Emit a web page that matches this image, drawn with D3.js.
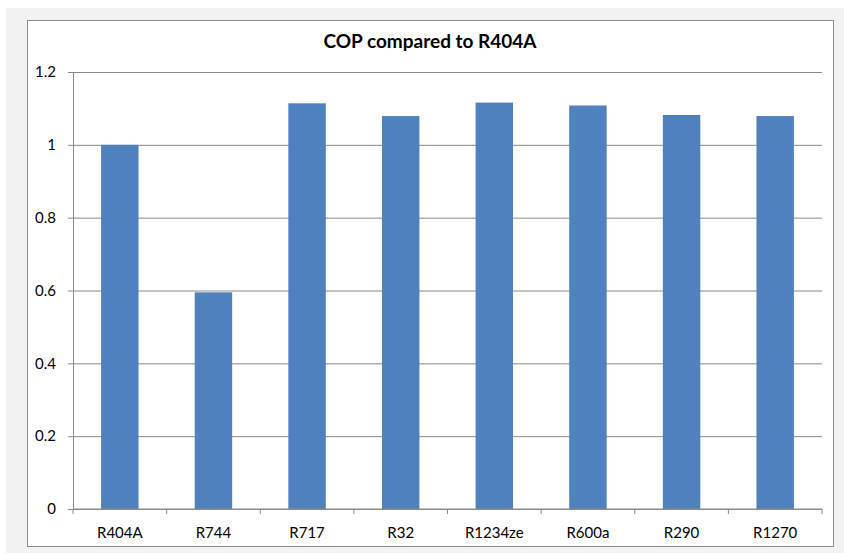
<!DOCTYPE html>
<html>
<head>
<meta charset="utf-8">
<script src="https://cdn.jsdelivr.net/npm/d3@7"></script>
<style>
  html, body { margin: 0; padding: 0; background: #fff; }
  svg { display: block; }
</style>
</head>
<body>
<div id="chart"></div>
<script>
// COP relative to R404A
const REFRIGERANTS = ['R404A', 'R744', 'R717', 'R32', 'R1234ze', 'R600a', 'R290', 'R1270']
const COP_RATIO = [1.0, 0.595, 1.114, 1.079, 1.116, 1.108, 1.082, 1.079]
const Y_TICKS = [0, 0.2, 0.4, 0.6, 0.8, 1, 1.2]

const totalW = 844
const totalH = 554
const margin = { top: 72, right: 22, bottom: 45, left: 73 }
const W = totalW - margin.left - margin.right
const H = totalH - margin.top - margin.bottom
const font = 'Lato, "Open Sans", "Liberation Sans", sans-serif'

const svg = d3.select('#chart')
  .append('svg')
  .attr('width', totalW)
  .attr('height', totalH)

// Outer grey frame and chart box
svg.append('rect')
  .attr('x', 6).attr('y', 8)
  .attr('width', totalW - 6).attr('height', 545)
  .attr('fill', '#f2f2f2')

svg.append('rect')
  .attr('x', 27.5).attr('y', 20.5)
  .attr('width', 806).attr('height', 526)
  .attr('fill', '#fff')
  .attr('stroke', '#8c8c8c')
  .attr('stroke-width', 1)

svg.append('text')
  .attr('x', 430).attr('y', 48)
  .attr('text-anchor', 'middle')
  .attr('font-family', font)
  .attr('font-weight', 'bold')
  .attr('font-size', 19)
  .attr('fill', '#000')
  .text('COP compared to R404A')

const g = svg.append('g').attr('transform', `translate(${margin.left},${margin.top})`)

const x = d3.scaleBand()
  .domain(REFRIGERANTS)
  .range([0, W])
  .paddingInner(0.6)
  .paddingOuter(0.3)

const xGroup = d3.scaleBand()
  .domain(REFRIGERANTS)
  .range([0, W])

const y = d3.scaleLinear()
  .domain([0, 1.2])
  .range([H, 0])

// Grid lines
g.append('g')
  .call(d3.axisLeft(y).tickValues(Y_TICKS).tickSize(-W).tickFormat(''))
  .call(gg => gg.select('.domain').remove())
  .call(gg => gg.selectAll('line').attr('stroke', '#8a8a8a').attr('stroke-width', 1))

// Bars
g.selectAll('.bar')
  .data(REFRIGERANTS.map((name, i) => ({ name, value: COP_RATIO[i] })))
  .enter().append('rect')
  .attr('class', 'bar')
  .attr('x', d => x(d.name))
  .attr('y', d => y(d.value))
  .attr('width', x.bandwidth())
  .attr('height', d => H - y(d.value))
  .attr('fill', '#4f81bd')

// Y axis
g.append('g')
  .call(d3.axisLeft(y).tickValues(Y_TICKS).tickSize(5).tickPadding(12).tickFormat(d => d3.format('')(d)))
  .call(ax => ax.select('.domain').attr('stroke', '#8a8a8a'))
  .call(ax => ax.selectAll('line').attr('stroke', '#8a8a8a'))
  .call(ax => ax.selectAll('text').attr('fill', '#000').attr('font-size', 15).attr('font-family', font))

// X axis: ticks sit between categories
const xAxis = g.append('g').attr('transform', `translate(0,${H})`)
xAxis.append('line')
  .attr('x1', 0).attr('x2', W)
  .attr('stroke', '#8a8a8a')
xAxis.selectAll('.tick-mark')
  .data(REFRIGERANTS.concat(['end']))
  .enter().append('line')
  .attr('class', 'tick-mark')
  .attr('x1', (d, i) => i * xGroup.bandwidth())
  .attr('x2', (d, i) => i * xGroup.bandwidth())
  .attr('y1', 0).attr('y2', 5)
  .attr('stroke', '#8a8a8a')
xAxis.selectAll('.tick-label')
  .data(REFRIGERANTS)
  .enter().append('text')
  .attr('class', 'tick-label')
  .attr('x', d => xGroup(d) + xGroup.bandwidth() / 2)
  .attr('y', 29)
  .attr('text-anchor', 'middle')
  .attr('font-family', font)
  .attr('font-size', 15)
  .attr('fill', '#000')
  .text(d => d)
</script>
</body>
</html>
